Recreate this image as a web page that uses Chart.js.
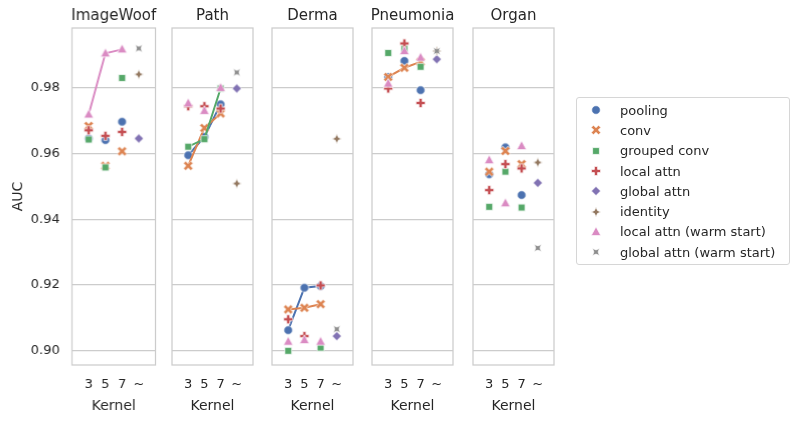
<!DOCTYPE html>
<html>
<head>
<meta charset="utf-8">
<script src="https://cdn.jsdelivr.net/npm/chart.js@4/dist/chart.umd.min.js"></script>
<style>
  body { margin: 0; background: #fff; width: 793px; height: 421px; overflow: hidden; font-family: "DejaVu Sans", sans-serif; color: #262626; }
  .panel { position: absolute; top: 0; height: 421px; }
  #legend { position: absolute; left: 576px; top: 97px; width: 214px; height: 168px; border: 1px solid #d6d6d6; border-radius: 3px; box-sizing: border-box; padding-top: 2px; }
  .row { height: 20.3px; display: flex; align-items: center; font-size: 13px; white-space: nowrap; }
  .row canvas { margin-left: 11px; margin-right: 16px; }
</style>
</head>
<body>
<div id="legend"></div>
<script>
// data (null = no point)
const panels = ['ImageWoof', 'Path', 'Derma', 'Pneumonia', 'Organ'];
const kernels = ['3', '5', '7', '~'];
const seriesNames = ['pooling', 'conv', 'grouped conv', 'local attn', 'global attn', 'identity', 'local attn (warm start)', 'global attn (warm start)'];

const pooling      = [[0.9646, 0.9641, 0.9697, null], [0.9595, 0.9651, 0.9750, null], [0.9063, 0.9192, 0.9197, null], [0.9833, 0.9882, 0.9793, null], [0.9537, 0.9619, 0.9474, null]];
const conv         = [[0.9684, 0.9563, 0.9607, null], [0.9563, 0.9678, 0.9722, null], [0.9126, 0.9131, 0.9142, null], [0.9833, 0.9861, 0.9879, null], [0.9545, 0.9608, 0.9568, null]];
const groupedConv  = [[0.9643, 0.9558, 0.9830, null], [0.9621, 0.9644, 0.9798, null], [0.9000, null, 0.9010, null], [0.9906, 0.9920, 0.9864, null], [0.9438, 0.9545, 0.9436, null]];
const localAttn    = [[0.9671, 0.9654, 0.9666, null], [0.9744, 0.9744, 0.9737, null], [0.9096, 0.9045, 0.9199, null], [0.9798, 0.9935, 0.9754, null], [0.9489, 0.9568, 0.9555, null]];
const globalAttn   = [[null, null, null, 0.9646], [null, null, null, 0.9798], [null, null, null, 0.9045], [null, null, null, 0.9887], [null, null, null, 0.9511]];
const identity     = [[null, null, null, 0.9841], [null, null, null, 0.9509], [null, null, null, 0.9645], [null, null, null, 0.9912], [null, null, null, 0.9573]];
const localWarm    = [[0.9719, 0.9905, 0.9917, null], [0.9753, 0.9730, 0.9800, null], [0.9028, 0.9033, 0.9028, null], [0.9813, 0.9912, 0.9892, null], [0.9580, 0.9449, 0.9623, null]];
const globalWarm   = [[null, null, null, 0.9920], [null, null, null, 0.9847], [null, null, null, 0.9066], [null, null, null, 0.9912], [null, null, null, 0.9313]];

// which series are joined by a line in each panel
const linedSeries = [['local attn (warm start)'], ['pooling', 'conv', 'grouped conv'], ['pooling', 'conv'], ['conv'], []];

const allValues = [pooling, conv, groupedConv, localAttn, globalAttn, identity, localWarm, globalWarm];
const colors = ['#4c72b0', '#dd8452', '#55a868', '#c44e52', '#8172b3', '#937860', '#da8bc3', '#8c8c8c'];
const markers = ['circle', 'xfill', 'square', 'plus', 'diamond', 'star', 'triangle', 'starx'];

const panelLeft = [71.5, 171.7, 272.3, 372.3, 473.3];
const panelW = 85;
const yMin = 0.8957, yMax = 0.9982;

// marker images, roughly like the seaborn ones
function makeMarker(kind, color) {
  const s = 16, c = document.createElement('canvas');
  c.width = s; c.height = s;
  const g = c.getContext('2d');
  g.translate(s / 2, s / 2);
  g.fillStyle = color;
  g.strokeStyle = '#fff';
  g.lineWidth = 0.7;
  g.beginPath();
  const poly = pts => { g.moveTo(pts[0][0], pts[0][1]); pts.slice(1).forEach(p => g.lineTo(p[0], p[1])); g.closePath(); };
  const plusPts = (r, t) => [[-t, -r], [t, -r], [t, -t], [r, -t], [r, t], [t, t], [t, r], [-t, r], [-t, t], [-r, t], [-r, -t], [-t, -t]];
  const rot = (pts, a) => pts.map(p => [p[0] * Math.cos(a) - p[1] * Math.sin(a), p[0] * Math.sin(a) + p[1] * Math.cos(a)]);
  if (kind === 'circle') g.arc(0, 0, 4.3, 0, Math.PI * 2);
  else if (kind === 'square') g.rect(-3.4, -3.4, 6.8, 6.8);
  else if (kind === 'diamond') poly([[0, -4.6], [4.6, 0], [0, 4.6], [-4.6, 0]]);
  else if (kind === 'triangle') poly([[0, -5.2], [4.8, 3.6], [-4.8, 3.6]]);
  else if (kind === 'plus') poly(plusPts(4.6, 1.6));
  else if (kind === 'xfill') poly(rot(plusPts(5.2, 1.6), Math.PI / 4));
  else if (kind === 'star' || kind === 'starx') {
    const pts = [];
    for (let i = 0; i < 8; i++) {
      const r = i % 2 ? 2.1 : 4.9, a = i * Math.PI / 4 - Math.PI / 2 + (kind === 'starx' ? Math.PI / 4 : 0);
      pts.push([r * Math.cos(a), r * Math.sin(a)]);
    }
    poly(pts);
  }
  g.fill();
  g.stroke();
  return c;
}
const markerImgs = markers.map((m, i) => makeMarker(m, colors[i]));

// box around each panel + title on top
const framePlugin = {
  id: 'frame',
  beforeDatasetsDraw(chart) {
    const a = chart.chartArea, ctx = chart.ctx;
    ctx.save();
    ctx.strokeStyle = '#cccccc';
    ctx.lineWidth = 1.25;
    ctx.strokeRect(a.left, a.top, a.right - a.left, a.bottom - a.top);
    ctx.restore();
  },
  afterDraw(chart) {
    const a = chart.chartArea, ctx = chart.ctx;
    ctx.save();
    ctx.fillStyle = '#262626';
    ctx.font = '15px "DejaVu Sans"';
    ctx.textAlign = 'center';
    ctx.textBaseline = 'alphabetic';
    ctx.fillText(chart.options.plugins.panelTitle, (a.left + a.right) / 2, 20);
    ctx.restore();
  }
};

panels.forEach((name, p) => {
  const first = p === 0;
  const yW = first ? panelLeft[0] : 4;
  const left = first ? 0 : panelLeft[p] - 6;
  const div = document.createElement('div');
  div.className = 'panel';
  div.style.left = left + 'px';
  div.style.width = (yW + panelW + 4) + 'px';
  const cv = document.createElement('canvas');
  div.appendChild(cv);
  document.body.appendChild(div);

  const ds = seriesNames.map((s, i) => ({
    label: s,
    data: allValues[i][p].map((v, k) => ({ x: k, y: v })).filter(d => d.y !== null),
    showLine: linedSeries[p].includes(s),
    borderColor: colors[i],
    backgroundColor: colors[i],
    borderWidth: 2,
    pointStyle: markerImgs[i],
    order: 10 - i
  }));

  new Chart(cv, {
    type: 'scatter',
    data: { datasets: ds },
    plugins: [framePlugin],
    options: {
      responsive: true,
      maintainAspectRatio: false,
      animation: false,
      layout: { padding: { top: 28, right: 4, bottom: 0, left: 0 } },
      plugins: { legend: { display: false }, tooltip: { enabled: false }, panelTitle: name },
      scales: {
        x: {
          type: 'linear', min: -1, max: 4,
          afterBuildTicks: sc => { sc.ticks = kernels.map((k, i) => ({ value: i })); },
          afterFit: sc => { sc.height = 56; },
          grid: { display: false, drawTicks: false },
          border: { display: false },
          ticks: { callback: v => kernels[v], padding: 12, maxRotation: 0, color: '#262626', font: { family: 'DejaVu Sans', size: 13 } },
          title: { display: true, text: 'Kernel', color: '#262626', padding: { top: 0, bottom: 6 }, font: { family: 'DejaVu Sans', size: 14 } }
        },
        y: {
          min: yMin, max: yMax,
          afterFit: sc => { sc.width = yW; },
          grid: { color: '#cccccc', lineWidth: 1.25, drawTicks: false },
          border: { display: false },
          ticks: { display: first, stepSize: 0.02, includeBounds: false, padding: 12, callback: v => v.toFixed(2), color: '#262626', font: { family: 'DejaVu Sans', size: 13 } },
          title: { display: first, text: 'AUC', color: '#262626', padding: { top: 10, bottom: 0 }, font: { family: 'DejaVu Sans', size: 14 } }
        }
      }
    }
  });
});

// legend
const legend = document.getElementById('legend');
seriesNames.forEach((s, i) => {
  const row = document.createElement('div');
  row.className = 'row';
  const m = makeMarker(markers[i], colors[i]);
  row.appendChild(m);
  const t = document.createElement('span');
  t.textContent = s;
  row.appendChild(t);
  legend.appendChild(row);
});
</script>
</body>
</html>
